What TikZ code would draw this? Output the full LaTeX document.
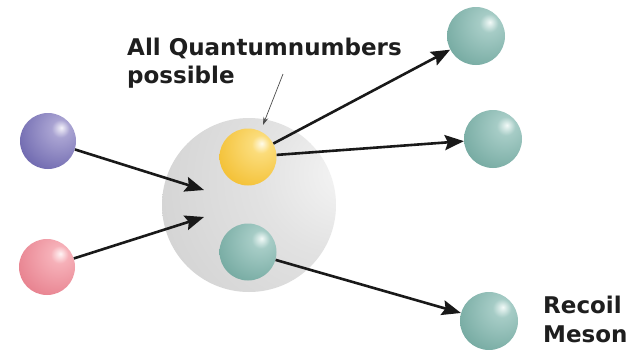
\documentclass[tikz,border=0pt]{standalone}
\usepackage{fontspec}
\newfontfamily\lblfont{DejaVu Sans}
\usetikzlibrary{arrows.meta}
\definecolor{txt}{HTML}{1E1E1E}
% blue
\definecolor{bH}{HTML}{F4F2FA}\definecolor{bL}{HTML}{A9A3D2}\definecolor{bB}{HTML}{6660AA}\definecolor{bD}{HTML}{4A4490}
% pink
\definecolor{pH}{HTML}{FFF4F5}\definecolor{pL}{HTML}{F6B0B8}\definecolor{pB}{HTML}{E57A88}\definecolor{pD}{HTML}{D85C6C}
% yellow
\definecolor{yH}{HTML}{FFFBEA}\definecolor{yL}{HTML}{FBDC7A}\definecolor{yB}{HTML}{F2BC2A}\definecolor{yD}{HTML}{E6A818}
% teal
\definecolor{tH}{HTML}{F2FAF8}\definecolor{tL}{HTML}{A6CCC6}\definecolor{tB}{HTML}{6EA59C}\definecolor{tD}{HTML}{4E8A80}
% gray
\definecolor{gH}{HTML}{F6F6F6}\definecolor{gL}{HTML}{E2E2E2}\definecolor{gB}{HTML}{CFCFCF}\definecolor{gD}{HTML}{BDBDBD}
\newcommand\mkshade[5]{\pgfdeclareradialshading{#1}{\pgfpoint{12bp}{12bp}}{color(0bp)=(#2); color(8bp)=(#3); color(42bp)=(#4); color(64bp)=(#5); color(110bp)=(#5)}}
\mkshade{shB}{bH}{bL}{bB}{bD}
\mkshade{shP}{pH}{pL}{pB}{pD}
\mkshade{shY}{yH}{yL}{yB}{yD}
\mkshade{shT}{tH}{tL}{tB}{tD}
\pgfdeclareradialshading{shG}{\pgfpoint{30bp}{10bp}}{color(0bp)=(gH); color(22bp)=(gL); color(55bp)=(gB); color(80bp)=(gD); color(120bp)=(gD)}
\begin{document}
\begin{tikzpicture}[x=1pt,y=-1pt,
  ball/.style={circle,inner sep=0pt,minimum size=56pt},
  arr/.style={line width=2.6pt,draw=black!90,-{Stealth[length=19pt,width=15pt,inset=3pt]}},
  thin/.style={line width=0.7pt,draw=black!70,-{Stealth[length=8pt,width=5pt]}},
  lbl/.style={font=\lblfont\bfseries\fontsize{23}{28}\selectfont,text=txt,inner sep=0pt,align=left}]
\useasboundingbox (0,0) rectangle (630,349);
\fill[white] (0,0) rectangle (630,349);
\node[circle,inner sep=0pt,minimum size=174pt,shading=shG] (big) at (249,205) {};
\node[ball,shading=shB] (blue) at (48,141) {};
\node[ball,shading=shP] (pink) at (47,267) {};
\node[ball,minimum size=57pt,shading=shY] (yel) at (248,157) {};
\node[ball,minimum size=57pt,shading=shT] (inner) at (248,252) {};
\node[ball,minimum size=58pt,shading=shT] (t1) at (476,36) {};
\node[ball,minimum size=58pt,shading=shT] (t2) at (493,139) {};
\node[ball,minimum size=58pt,shading=shT] (t3) at (489,321) {};
\coordinate (c1) at (204,190);
\coordinate (c2) at (204,217);
\coordinate (c3) at (283,74);
\coordinate (c4) at (263,125);
\draw[arr] (blue) -- (c1);
\draw[arr] (pink) -- (c2);
\draw[arr] (yel) -- (t1);
\draw[arr] (yel) -- (t2);
\draw[arr] (inner) -- (t3);
\draw[thin] (c3) -- (c4);
\node[lbl,anchor=base west] (q) at (127,83) {All Quantumnumbers\\possible};
\node[lbl,anchor=base west,font=\lblfont\bfseries\fontsize{23}{29}\selectfont] (r) at (543,342) {Recoil\\Meson};
\end{tikzpicture}
\end{document}
